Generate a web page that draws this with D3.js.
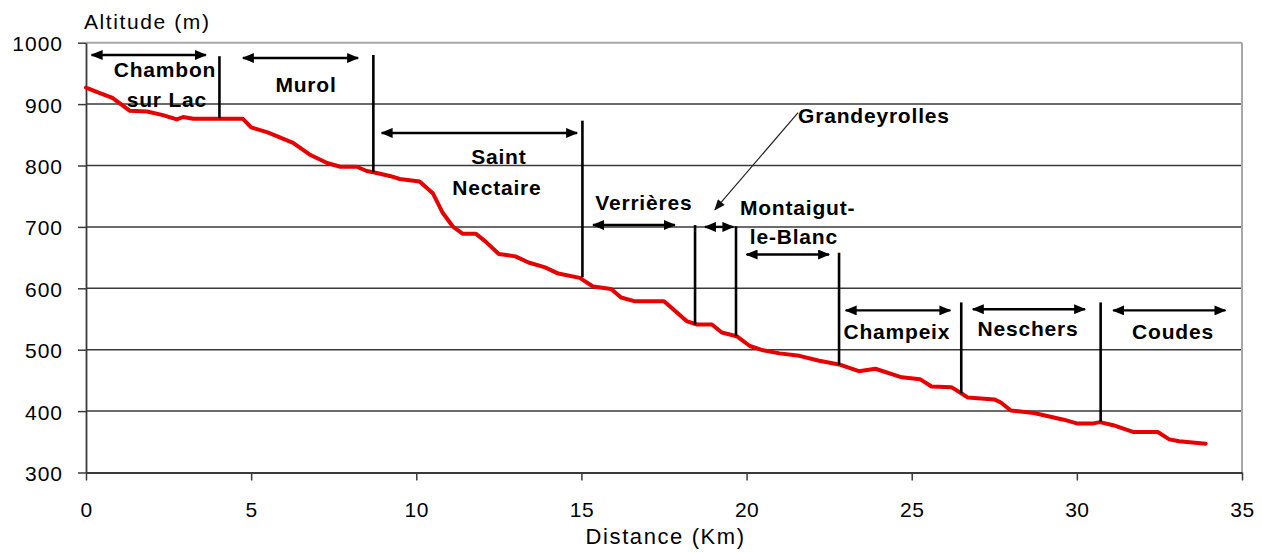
<!DOCTYPE html>
<html>
<head>
<meta charset="utf-8">
<script src="https://cdn.jsdelivr.net/npm/d3@7"></script>
<style>
  html, body { margin: 0; padding: 0; background: #fff; }
  svg { display: block; font-family: "Liberation Sans", Arial, sans-serif; }
</style>
</head>
<body>
<svg id="chart" width="1262" height="552"></svg>
<script>
// ---- data ----
const distanceKm = [0, 0.42, 0.8, 1.33, 1.85, 2.33, 2.75, 2.94, 3.25, 4.75, 5.0, 5.5, 6.27, 6.8, 7.3, 7.7, 8.2, 8.5, 8.7, 9.2, 9.5, 10.1, 10.5, 10.8, 11.1, 11.4, 11.8, 12.1, 12.5, 13.0, 13.4, 13.9, 14.3, 14.95, 15.35, 15.9, 16.2, 16.6, 17.5, 17.9, 18.2, 18.5, 18.95, 19.25, 19.7, 20.1, 20.5, 21.0, 21.6, 22.2, 22.8, 23.4, 23.9, 24.7, 25.25, 25.6, 26.2, 26.5, 26.7, 27.5, 27.7, 28.0, 28.7, 29.6, 30.0, 30.5, 30.7, 31.1, 31.7, 32.45, 32.8, 33.1, 33.9];
const altitudeM = [927, 918, 910, 889, 888, 882, 875, 879, 876, 876, 862, 854, 837, 817, 804, 798, 798, 791, 789, 783, 778, 774, 755, 723, 701, 689, 689, 676, 656, 652, 642, 634, 624, 617, 603, 599, 585, 579, 579, 560, 546, 541, 541, 528, 522, 506, 499, 494, 490, 482, 476, 465, 469, 455, 452, 440, 439, 429, 422, 419, 414, 401, 397, 386, 380, 380, 382, 377, 366, 366, 354, 351, 347];

const xTicks = [0, 5, 10, 15, 20, 25, 30, 35];
const yTicks = [300, 400, 500, 600, 700, 800, 900, 1000];

// section boundary markers: km, top altitude, bottom altitude
const markerKm = [4.04, 8.7, 15.03, 18.44, 19.68, 22.8, 26.5, 30.72];
const markerTop = [978, 980, 873, 703, 701, 658, 577, 577];
const markerBottom = [877, 789, 618, 541, 522, 475, 429, 383];

// section span arrows: from km, to km, altitude
const spanFrom = [0.17, 4.75, 8.95, 15.35, 18.74, 20.0, 23.0, 26.85, 31.1];
const spanTo = [3.63, 8.24, 14.87, 17.83, 19.6, 22.5, 26.17, 30.25, 34.5];
const spanAlt = [980, 975, 853, 703, 700, 655, 564, 566, 564];

// town labels
const labelText = ["Chambon", "sur Lac", "Murol", "Saint", "Nectaire", "Verrières", "Grandeyrolles", "Montaigut-", "le-Blanc", "Champeix", "Neschers", "Coudes"];
const labelKm = [2.39, 2.45, 6.66, 12.5, 12.44, 16.89, 21.56, 19.8, 20.1, 24.55, 28.52, 32.91];
const labelAlt = [944, 896, 920, 803, 752, 728, 869, 720, 672, 517, 523, 517];
const labelAnchor = ["middle", "middle", "middle", "middle", "middle", "middle", "start", "start", "start", "middle", "middle", "middle"];

// Grandeyrolles pointer
const pointerKm = [21.56, 19.04];
const pointerAlt = [886, 728];

// ---- chart ----
const svg = d3.select("#chart");
const x = d3.scaleLinear().domain([0, 35]).range([86, 1242]);
const y = d3.scaleLinear().domain([300, 1000]).range([472.5, 42.7]);

const defs = svg.append("defs");
defs.append("marker")
  .attr("id", "ah").attr("viewBox", "0 0 12 10")
  .attr("refX", 11).attr("refY", 5)
  .attr("markerWidth", 12).attr("markerHeight", 10)
  .attr("markerUnits", "userSpaceOnUse")
  .attr("orient", "auto-start-reverse")
  .append("path").attr("d", "M0,0 L12,5 L0,10 Z").attr("fill", "#000");
defs.append("marker")
  .attr("id", "ptr").attr("viewBox", "0 0 12 10")
  .attr("refX", 11).attr("refY", 5)
  .attr("markerWidth", 12).attr("markerHeight", 9)
  .attr("markerUnits", "userSpaceOnUse")
  .attr("orient", "auto")
  .append("path").attr("d", "M0,0 L12,5 L0,10 Z").attr("fill", "#111");

// gridlines
svg.append("g").selectAll("line")
  .data(yTicks.filter(v => v > 300))
  .join("line")
  .attr("x1", x(0)).attr("x2", x(35))
  .attr("y1", d => y(d)).attr("y2", d => y(d))
  .attr("stroke", d => d === 1000 ? "#a8a8a8" : "#3a3a3a")
  .attr("stroke-width", d => d === 1000 ? 2 : 1.5);

// right border
svg.append("line")
  .attr("x1", x(35)).attr("x2", x(35))
  .attr("y1", y(1000)).attr("y2", y(300))
  .attr("stroke", "#a8a8a8").attr("stroke-width", 2);

// axes
const xAxis = svg.append("g")
  .attr("transform", `translate(0,${y(300)})`)
  .call(d3.axisBottom(x).tickValues(xTicks).tickFormat(d3.format("d")).tickSize(8).tickPadding(22).tickSizeOuter(0));
const yAxis = svg.append("g")
  .attr("transform", `translate(${x(0)},0)`)
  .call(d3.axisLeft(y).tickValues(yTicks).tickFormat(d3.format("d")).tickSize(8).tickPadding(15).tickSizeOuter(0));
[xAxis, yAxis].forEach(g => {
  g.select(".domain").attr("stroke", "#3a3a3a").attr("stroke-width", 1.8);
  g.selectAll(".tick line").attr("stroke", "#3a3a3a").attr("stroke-width", 1.5);
  g.selectAll(".tick text")
    .attr("fill", "#000")
    .style("font-size", "21px")
    .style("font-family", "'Liberation Sans', Arial, sans-serif");
});
yAxis.selectAll(".tick text").attr("dy", "0.38em").style("letter-spacing", "1px");
xAxis.selectAll(".tick text").style("letter-spacing", "0.5px");

// axis titles
svg.append("text")
  .attr("x", 84).attr("y", 29)
  .style("font-size", "21px").style("letter-spacing", "1.6px")
  .text("Altitude (m)");
svg.append("text")
  .attr("x", x(17.55)).attr("y", 544)
  .attr("text-anchor", "middle")
  .style("font-size", "22px").style("letter-spacing", "1.6px")
  .text("Distance (Km)");

// profile line
const line = d3.line().x((d, i) => x(distanceKm[i])).y(d => y(d));
svg.append("path")
  .datum(altitudeM)
  .attr("d", line)
  .attr("fill", "none")
  .attr("stroke", "#e60000")
  .attr("stroke-width", 4)
  .attr("stroke-linejoin", "round")
  .attr("stroke-linecap", "round");

// section markers
svg.append("g").selectAll("line")
  .data(markerKm)
  .join("line")
  .attr("x1", d => x(d)).attr("x2", d => x(d))
  .attr("y1", (d, i) => y(markerTop[i]))
  .attr("y2", (d, i) => y(markerBottom[i]))
  .attr("stroke", "#000").attr("stroke-width", 2.6);

// span arrows
svg.append("g").selectAll("line")
  .data(spanFrom)
  .join("line")
  .attr("x1", d => x(d))
  .attr("x2", (d, i) => x(spanTo[i]))
  .attr("y1", (d, i) => y(spanAlt[i]))
  .attr("y2", (d, i) => y(spanAlt[i]))
  .attr("stroke", "#000").attr("stroke-width", 2.4)
  .attr("marker-start", "url(#ah)")
  .attr("marker-end", "url(#ah)");

// pointer
svg.append("line")
  .attr("x1", x(pointerKm[0])).attr("y1", y(pointerAlt[0]))
  .attr("x2", x(pointerKm[1])).attr("y2", y(pointerAlt[1]))
  .attr("stroke", "#222").attr("stroke-width", 1.2)
  .attr("marker-end", "url(#ptr)");

// labels
svg.append("g").selectAll("text")
  .data(labelText)
  .join("text")
  .attr("x", (d, i) => x(labelKm[i]))
  .attr("y", (d, i) => y(labelAlt[i]))
  .attr("text-anchor", (d, i) => labelAnchor[i])
  .style("font-size", "21px")
  .style("font-weight", "bold")
  .style("letter-spacing", "0.8px")
  .attr("fill", "#000")
  .text(d => d);
</script>
</body>
</html>
